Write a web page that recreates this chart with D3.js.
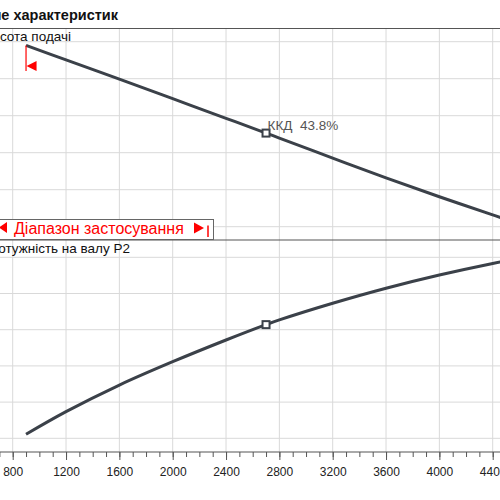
<!DOCTYPE html>
<html>
<head>
<meta charset="utf-8">
<script src="https://cdn.jsdelivr.net/npm/d3@7"></script>
<style>
  body { margin: 0; background: #fff; }
  svg { display: block; font-family: "Liberation Sans", Arial, sans-serif; }
</style>
</head>
<body>
<div id="chart"></div>
<script>
// flow, m3/h
var flow = [900, 1200, 1600, 2000, 2400, 2700, 2800, 3200, 3600, 4000, 4400, 4500];
// head, m
var head = [13.80, 13.02, 11.98, 10.92, 9.86, 9.06, 8.79, 7.71, 6.64, 5.62, 4.64, 4.40];
// shaft power P2, kW
var power = [102.2, 114.7, 129.4, 142.3, 154.3, 162.8, 165.4, 174.6, 182.9, 190.2, 196.6, 198.0];

var duty_flow = 2700;
var duty_head = 9.06;
var duty_power = 162.8;
var duty_eff = "43.8%";

var x_ticks = [800, 1200, 1600, 2000, 2400, 2800, 3200, 3600, 4000, 4400];
var x_minor = d3.range(700, 4600, 100);
var head_grid = [4, 6, 8, 10, 12, 14];
var power_grid = [100, 120, 140, 160, 180, 200];

var width = 500;
var height = 500;

var svg = d3.select("#chart").append("svg")
    .attr("width", width)
    .attr("height", height);

var x = d3.scaleLinear().domain([800, 4400]).range([12.7, 492.7]);
var y_head = d3.scaleLinear().domain([4, 14]).range([226.7, 41.7]);
var y_power = d3.scaleLinear().domain([100, 200]).range([438.3, 257.3]);

var grid_color = "#d9d9d9";
var frame_color = "#555";
var curve_color = "#3b4149";

// vertical grid
svg.append("g").selectAll("line").data(x_ticks).enter()
    .append("line")
        .attr("x1", function(d) { return x(d); })
        .attr("x2", function(d) { return x(d); })
        .attr("y1", 28)
        .attr("y2", 452)
        .attr("stroke", grid_color);

// horizontal grid, top panel
svg.append("g").selectAll("line").data(head_grid).enter()
    .append("line")
        .attr("x1", 0).attr("x2", width)
        .attr("y1", function(d) { return y_head(d); })
        .attr("y2", function(d) { return y_head(d); })
        .attr("stroke", grid_color);

// horizontal grid, bottom panel
svg.append("g").selectAll("line").data(power_grid).enter()
    .append("line")
        .attr("x1", 0).attr("x2", width)
        .attr("y1", function(d) { return y_power(d); })
        .attr("y2", function(d) { return y_power(d); })
        .attr("stroke", grid_color);

// panel frames
svg.append("line").attr("x1", 0).attr("x2", width).attr("y1", 28.5).attr("y2", 28.5)
    .attr("stroke", frame_color).attr("stroke-width", 1.2);
svg.append("line").attr("x1", 0).attr("x2", width).attr("y1", 240).attr("y2", 240)
    .attr("stroke", frame_color).attr("stroke-width", 1.2);

// title, cut off on the left as in the source
svg.append("text")
    .attr("x", 118).attr("y", 20)
    .attr("text-anchor", "end")
    .attr("font-weight", "bold")
    .attr("font-size", 14.5)
    .attr("fill", "#111")
    .text("Поле характеристик");

svg.append("text")
    .attr("x", 71).attr("y", 41)
    .attr("text-anchor", "end")
    .attr("font-size", 13.5)
    .attr("fill", "#111")
    .text("Висота подачі");

svg.append("text")
    .attr("x", 130).attr("y", 253)
    .attr("text-anchor", "end")
    .attr("font-size", 13.5)
    .attr("fill", "#111")
    .text("Потужність на валу P2");

// curves
var pts = flow.map(function(f, i) { return { q: f, h: head[i], p: power[i] }; });

var head_line = d3.line()
    .x(function(d) { return x(d.q); })
    .y(function(d) { return y_head(d.h); })
    .curve(d3.curveCatmullRom);

var power_line = d3.line()
    .x(function(d) { return x(d.q); })
    .y(function(d) { return y_power(d.p); })
    .curve(d3.curveCatmullRom);

svg.append("path").datum(pts)
    .attr("d", head_line)
    .attr("fill", "none")
    .attr("stroke", curve_color)
    .attr("stroke-width", 3);

svg.append("path").datum(pts)
    .attr("d", power_line)
    .attr("fill", "none")
    .attr("stroke", curve_color)
    .attr("stroke-width", 3);

// duty point markers
[[duty_flow, y_head(duty_head)], [duty_flow, y_power(duty_power)]].forEach(function(p) {
    svg.append("rect")
        .attr("x", x(p[0]) - 3.5)
        .attr("y", p[1] - 3.5)
        .attr("width", 7)
        .attr("height", 7)
        .attr("fill", "#fff")
        .attr("stroke", curve_color)
        .attr("stroke-width", 2);
});

svg.append("text")
    .attr("x", x(duty_flow) + 1.5)
    .attr("y", y_head(duty_head) - 3.5)
    .attr("font-size", 13.5)
    .attr("fill", "#555")
    .attr("xml:space", "preserve")
    .text("ККД  " + duty_eff);

// left limit marker of the range
var x0 = x(flow[0]);
svg.append("line")
    .attr("x1", x0).attr("x2", x0)
    .attr("y1", y_head(head[0])).attr("y2", 71)
    .attr("stroke", "red").attr("stroke-width", 1.2);
svg.append("path")
    .attr("d", "M" + (x0 + 0.5) + ",66 L" + (x0 + 10.5) + ",61 L" + (x0 + 10.5) + ",71 Z")
    .attr("fill", "red");

// range of application box
svg.append("rect")
    .attr("x", -5).attr("y", 219.5)
    .attr("width", 218.5).attr("height", 20)
    .attr("fill", "#fff")
    .attr("stroke", "#666")
    .attr("stroke-width", 1);
svg.append("text")
    .attr("x", 14).attr("y", 233.5)
    .attr("font-size", 16)
    .attr("fill", "red")
    .text("Діапазон застосування");
svg.append("path")
    .attr("d", "M-1,227.5 L7,222 L7,233 Z")
    .attr("fill", "red");
svg.append("path")
    .attr("d", "M194,222.5 L204,228 L194,233.5 Z")
    .attr("fill", "red");
svg.append("line")
    .attr("x1", 208).attr("x2", 208)
    .attr("y1", 225.5).attr("y2", 237)
    .attr("stroke", "red").attr("stroke-width", 1.5);

// x axis
var axis_y = 452;
svg.append("line").attr("x1", 0).attr("x2", width).attr("y1", axis_y).attr("y2", axis_y)
    .attr("stroke", frame_color).attr("stroke-width", 1.2);

svg.append("g")
    .attr("transform", "translate(0," + axis_y + ")")
    .call(d3.axisBottom(x).tickValues(x_minor).tickSize(5).tickFormat(""))
    .call(function(g) { g.select(".domain").remove(); })
    .selectAll("line").attr("stroke", frame_color);

var xa = svg.append("g")
    .attr("transform", "translate(0," + axis_y + ")")
    .call(d3.axisBottom(x).tickValues(x_ticks).tickSize(8).tickPadding(7).tickFormat(d3.format("d")));
xa.select(".domain").remove();
xa.selectAll("line").attr("stroke", frame_color);
xa.selectAll("text")
    .attr("font-family", "'Liberation Sans', Arial, sans-serif")
    .attr("font-size", 12)
    .attr("fill", "#222");
</script>
</body>
</html>
